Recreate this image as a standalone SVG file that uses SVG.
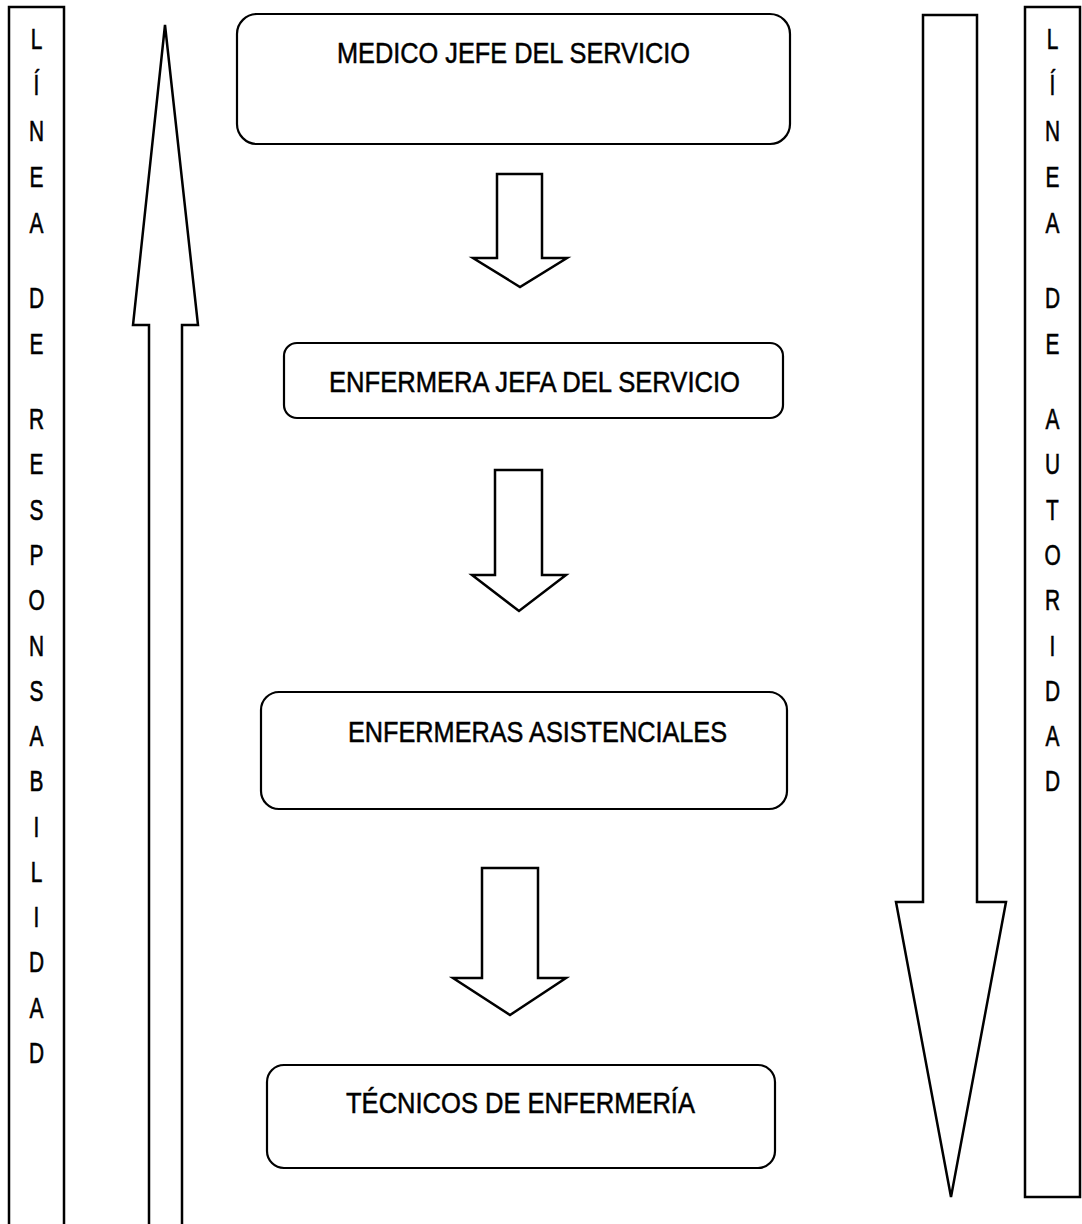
<svg xmlns="http://www.w3.org/2000/svg" width="1082" height="1224" viewBox="0 0 1082 1224">
<style>
.ln{fill:none;stroke:#000;stroke-width:2.5;stroke-linejoin:miter}
.bx{fill:#fff;stroke:#000;stroke-width:2.2}
.ar{fill:#fff;stroke:#000;stroke-width:2.5;stroke-linejoin:miter}
.t{font-family:"Liberation Sans",Arial,sans-serif;font-size:29px;fill:#000;stroke:#000;stroke-width:0.5}
.c{font-family:"Liberation Sans",Arial,sans-serif;font-size:29px;fill:#000;stroke:#000;stroke-width:0.6;text-anchor:middle}
</style>
<rect width="1082" height="1224" fill="#fff"/>

<g id="col-responsabilidad">
<path class="ln" d="M9 1226 V7 H64 V1226"/>
<g transform="translate(36.5 0) scale(0.72 1)">
<text class="c" x="0" y="49">L</text>
<text class="c" x="0" y="95">Í</text>
<text class="c" x="0" y="141">N</text>
<text class="c" x="0" y="187">E</text>
<text class="c" x="0" y="233">A</text>
<text class="c" x="0" y="308">D</text>
<text class="c" x="0" y="354">E</text>
<text class="c" x="0" y="429">R</text>
<text class="c" x="0" y="474">E</text>
<text class="c" x="0" y="520">S</text>
<text class="c" x="0" y="565">P</text>
<text class="c" x="0" y="610">O</text>
<text class="c" x="0" y="656">N</text>
<text class="c" x="0" y="701">S</text>
<text class="c" x="0" y="746">A</text>
<text class="c" x="0" y="791">B</text>
<text class="c" x="0" y="837">I</text>
<text class="c" x="0" y="882">L</text>
<text class="c" x="0" y="927">I</text>
<text class="c" x="0" y="972">D</text>
<text class="c" x="0" y="1018">A</text>
<text class="c" x="0" y="1063">D</text>
</g>
</g>

<g id="col-autoridad">
<rect class="ln" x="1025" y="7" width="55" height="1190"/>
<g transform="translate(1052.5 0) scale(0.72 1)">
<text class="c" x="0" y="49">L</text>
<text class="c" x="0" y="95">Í</text>
<text class="c" x="0" y="141">N</text>
<text class="c" x="0" y="187">E</text>
<text class="c" x="0" y="233">A</text>
<text class="c" x="0" y="308">D</text>
<text class="c" x="0" y="354">E</text>
<text class="c" x="0" y="429">A</text>
<text class="c" x="0" y="474">U</text>
<text class="c" x="0" y="520">T</text>
<text class="c" x="0" y="565">O</text>
<text class="c" x="0" y="610">R</text>
<text class="c" x="0" y="656">I</text>
<text class="c" x="0" y="701">D</text>
<text class="c" x="0" y="746">A</text>
<text class="c" x="0" y="791">D</text>
</g>
</g>

<g id="arrow-responsabilidad">
<path class="ar" d="M149 1226 V325 H133 L165 25 L198 325 H182 V1226"/>
</g>

<g id="arrow-autoridad">
<path class="ar" d="M923 15 H977 V902 H1006 L951 1197 L896 902 H923 Z"/>
</g>

<g id="node-medico">
<rect class="bx" x="237" y="14" width="553" height="130" rx="20"/>
<text class="t" x="337" y="63" textLength="353" lengthAdjust="spacingAndGlyphs">MEDICO JEFE DEL SERVICIO</text>
</g>

<g id="node-enfermera-jefa">
<rect class="bx" x="284" y="343" width="499" height="75" rx="13"/>
<text class="t" x="329" y="392" textLength="411" lengthAdjust="spacingAndGlyphs">ENFERMERA JEFA DEL SERVICIO</text>
</g>

<g id="node-enfermeras">
<rect class="bx" x="261" y="692" width="526" height="117" rx="18"/>
<text class="t" x="348" y="742" textLength="379" lengthAdjust="spacingAndGlyphs">ENFERMERAS ASISTENCIALES</text>
</g>

<g id="node-tecnicos">
<rect class="bx" x="267" y="1065" width="508" height="103" rx="17"/>
<text class="t" x="346" y="1113" textLength="349" lengthAdjust="spacingAndGlyphs">TÉCNICOS DE ENFERMERÍA</text>
</g>

<g id="connectors">
<path class="ar" d="M497 174 H542 V258 H567 L520 287 L473 258 H497 Z"/>
<path class="ar" d="M495 470 H542 V575 H566 L519 611 L472 575 H495 Z"/>
<path class="ar" d="M482 868 H538 V978 H566 L510 1015 L453 978 H482 Z"/>
</g>
</svg>
